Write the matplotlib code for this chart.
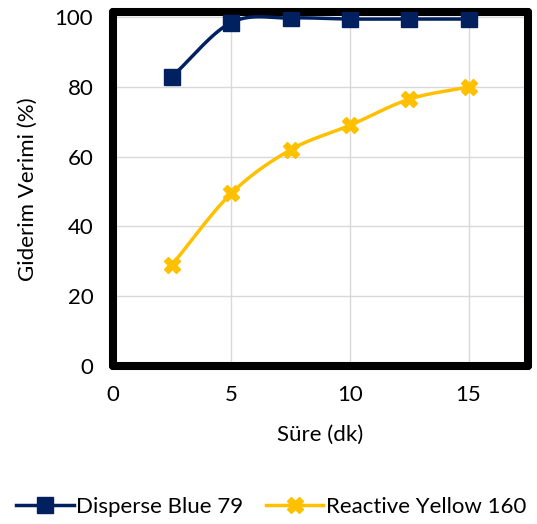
import numpy as np
import matplotlib
matplotlib.use("Agg")
import matplotlib.pyplot as plt

plt.rcParams['font.family'] = ['Lato', 'DejaVu Sans']

sure = [2.5, 5, 7.5, 10, 12.5, 15]
blue79 = [83, 98.5, 99.8, 99.5, 99.5, 99.5]
yellow160 = [29, 49.5, 62, 69, 76.5, 80]
xticks = [0, 5, 10, 15]
yticks = [0, 20, 40, 60, 80, 100]


def smooth(x, y, n=30):
    # catmull-rom curve through the points, like excel's smoothed line
    x = np.asarray(x, float)
    y = np.asarray(y, float)
    px = np.concatenate([[2 * x[0] - x[1]], x, [2 * x[-1] - x[-2]]])
    py = np.concatenate([[2 * y[0] - y[1]], y, [2 * y[-1] - y[-2]]])
    xs, ys = [], []
    t = np.linspace(0, 1, n)
    for i in range(1, len(px) - 2):
        for p, out in ((px, xs), (py, ys)):
            p0, p1, p2, p3 = p[i - 1], p[i], p[i + 1], p[i + 2]
            out.extend(0.5 * (2 * p1 + (-p0 + p2) * t
                              + (2 * p0 - 5 * p1 + 4 * p2 - p3) * t ** 2
                              + (-p0 + 3 * p1 - 3 * p2 + p3) * t ** 3))
    return xs, ys


fig = plt.figure(figsize=(5.37, 5.24), dpi=100)
ax = fig.add_axes([0.21, 0.302, 0.773, 0.675])

blue = '#002060'
yellow = '#FFC000'

sx, sy = smooth(sure, blue79)
ax.plot(sx, sy, color=blue, lw=2.5, zorder=3)
ax.plot(sure, blue79, ls='none', marker='s', ms=11, color=blue, zorder=4)
sx, sy = smooth(sure, yellow160)
ax.plot(sx, sy, color=yellow, lw=2.5, zorder=3)
ax.plot(sure, yellow160, ls='none', marker='X', ms=11, color=yellow, zorder=4)

# legend handles
ax.plot([], [], color=blue, lw=2.5, marker='s', ms=11, label='Disperse Blue 79')
ax.plot([], [], color=yellow, lw=2.5, marker='X', ms=11, label='Reactive Yellow 160')

ax.set_xlim(0, 17.5)
ax.set_ylim(0, 101.5)
ax.set_xticks(xticks)
ax.set_yticks(yticks)
ax.grid(True, color='#d9d9d9', lw=1)
ax.set_axisbelow(True)
ax.tick_params(length=0, labelsize=16, pad=14)
for s in ax.spines.values():
    s.set_linewidth(5.8)
    s.set_color('black')
    s.set_capstyle('round')

ax.set_xlabel('Süre (dk)', fontsize=16, labelpad=14)
ax.set_ylabel('Giderim Verimi (%)', fontsize=16, labelpad=12)

fig.legend(loc='lower center', bbox_to_anchor=(0.505, -0.025), ncol=2, frameon=False,
           fontsize=16, handlelength=2.6, handletextpad=0.1, columnspacing=1.0)

fig.savefig('out.png', dpi=100)
